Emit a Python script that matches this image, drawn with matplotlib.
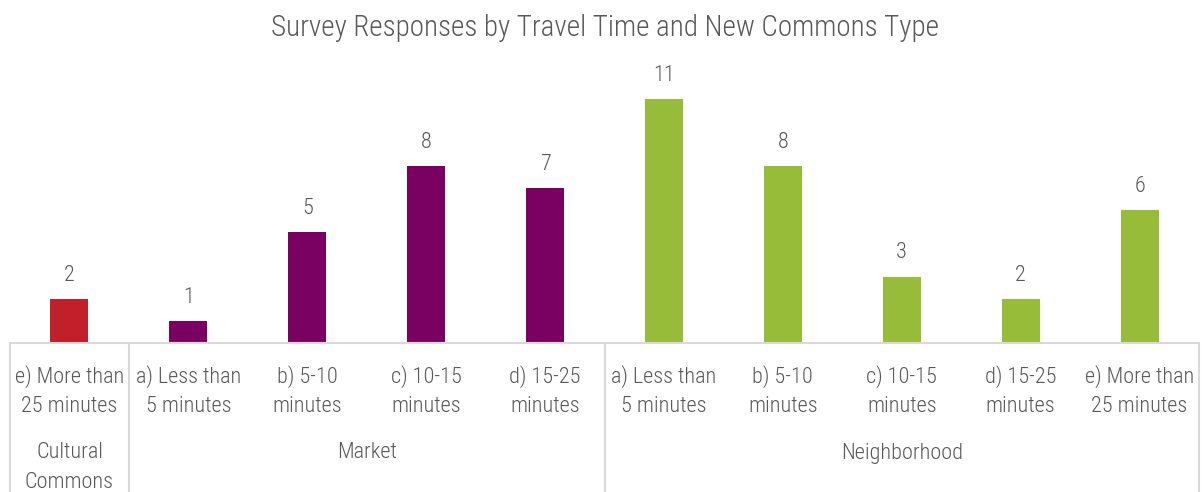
import matplotlib
matplotlib.use("Agg")
import matplotlib.pyplot as plt
from matplotlib.transforms import blended_transform_factory
from matplotlib.lines import Line2D

plt.rcParams['font.family'] = ['Roboto Condensed', 'DejaVu Sans']
plt.rcParams['font.weight'] = 300

# Data
travel_times = [
    "e) More than\n25 minutes",
    "a) Less than\n5 minutes",
    "b) 5-10\nminutes",
    "c) 10-15\nminutes",
    "d) 15-25\nminutes",
    "a) Less than\n5 minutes",
    "b) 5-10\nminutes",
    "c) 10-15\nminutes",
    "d) 15-25\nminutes",
    "e) More than\n25 minutes",
]
responses = [2, 1, 5, 8, 7, 11, 8, 3, 2, 6]
commons_types = ["Cultural\nCommons", "Market", "Neighborhood"]
group_sizes = [1, 4, 5]
group_colors = ["#C0202A", "#7A0062", "#97BC3A"]

W, H = 1202, 492
fig = plt.figure(figsize=(W / 100, H / 100), dpi=100)

base_px = 343
unit_px = 22.15
ymax = 12
left_px, right_px = 10, 1199
ax = fig.add_axes([left_px / W, 1 - base_px / H,
                   (right_px - left_px) / W, ymax * unit_px / H])
ax.set_xlim(-0.5, len(responses) - 0.5)
ax.set_ylim(0, ymax)
ax.axis("off")

text_color = "#595959"
line_color = "#D9D9D9"
label_size = 16

colors = []
for c, n in zip(group_colors, group_sizes):
    colors += [c] * n

xs = list(range(len(responses)))
ax.bar(xs, responses, width=0.32, color=colors, zorder=2)
for x, v in zip(xs, responses):
    ax.annotate(str(v), (x, v), xytext=(0, 17), textcoords="offset points",
                ha="center", va="center", fontsize=label_size, color=text_color)

# Two-level category axis
tr = blended_transform_factory(ax.transData, fig.transFigure)
fig.add_artist(Line2D([left_px / W, right_px / W], [1 - base_px / H] * 2,
                      transform=fig.transFigure, color=line_color, lw=1.5))

for x, lab in zip(xs, travel_times):
    for i, line in enumerate(lab.split("\n")):
        ax.text(x, 1 - (377 + 29.5 * i) / H, line, transform=tr, ha="center",
                va="center", fontsize=label_size, color=text_color, clip_on=False)

edges = [-0.5]
for n in group_sizes:
    edges.append(edges[-1] + n)
for e in edges:
    ax.add_line(Line2D([e, e], [1 - base_px / H, 0], transform=tr,
                       color=line_color, lw=1.5, clip_on=False))

for i, name in enumerate(commons_types):
    cx = (edges[i] + edges[i + 1]) / 2
    for j, line in enumerate(name.split("\n")):
        ax.text(cx, 1 - (453 + 29 * j) / H, line, transform=tr, ha="center",
                va="center", fontsize=label_size, color=text_color, clip_on=False)

fig.text(605 / W, 1 - 28 / H, "Survey Responses by Travel Time and New Commons Type",
         ha="center", va="center", fontsize=21, color=text_color)

fig.savefig("out.png", dpi=100)
